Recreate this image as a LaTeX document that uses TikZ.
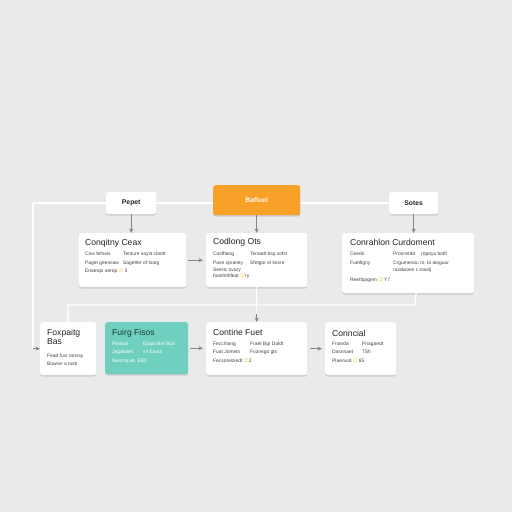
\documentclass[tikz,border=0pt]{standalone}
\usepackage{fontspec}
\setmainfont{Liberation Sans}
\newfontfamily\symf{DejaVu Sans}
\usetikzlibrary{shadows,arrows.meta}
\definecolor{bg}{HTML}{E9EAEC}
\definecolor{orng}{HTML}{F7A128}
\definecolor{teal}{HTML}{6FD0BF}
\definecolor{ink}{HTML}{222222}
\definecolor{grey}{HTML}{444444}
\definecolor{arr}{HTML}{858585}
\definecolor{ylw}{HTML}{F4C542}
\definecolor{tealink}{HTML}{163F37}
\tikzset{
  card/.style={fill=white, rounded corners=2.5pt, anchor=north west, inner sep=0pt,
    drop shadow={shadow xshift=0pt, shadow yshift=-1.3pt, opacity=0.13, fill=black}},
  tcard/.style={card, fill=teal},
  ocard/.style={card, fill=orng},
  ttl/.style={anchor=west, inner sep=0pt, font=\fontsize{8.6}{9}\selectfont, text=ink},
  lbl/.style={anchor=center, inner sep=0pt, font=\fontsize{6.8}{7}\selectfont\bfseries, text=ink},
  row/.style={anchor=west, inner sep=0pt, font=\fontsize{4.9}{5}\selectfont, text=grey},
  wline/.style={draw=white, line width=1.3pt},
  garrow/.style={draw=arr, line width=0.65pt, -{Stealth[length=4.5pt,width=4pt]}},
}
\newcommand{\ic}{{\symf\textcolor{ylw}{☺}}}
\begin{document}
\begin{tikzpicture}[x=1pt,y=-1pt]
\fill[bg] (0,0) rectangle (512,512);
\useasboundingbox (0,0) rectangle (512,512);

% connectors coordinates
\coordinate (lc) at (33,203);
\coordinate (hl) at (68,305);
\coordinate (hr) at (415,305);
\coordinate (b3b) at (415,293);
\coordinate (tr) at (389,203);

% white connectors (drawn first, behind cards)
\draw[wline] (lc) -- (tr);

% top row
\node[card, minimum width=50, minimum height=22] (pepet) at (106,192) {};
\node[lbl] (pepett) at (pepet.center) {Pepet};
\node[ocard, minimum width=87, minimum height=30] (baf) at (213,185) {};
\node[lbl, text=white!92!orng] (baft) at (baf.center) {Bafluel};
\node[card, minimum width=49, minimum height=22] (sotes) at (389,192) {};
\node[lbl] (sotest) at (sotes.center) {Sotes};

% second row
\node[card, minimum width=107, minimum height=54] (b1) at (79,233) {};
\node[ttl] (b1t) at (85,243) {Conqitny Ceax};
\node[row] (b1a) at (85,254) {Cow fefoxis};
\node[row] (b1b) at (123,254) {Tenture sayst cboltt};
\node[row] (b1c) at (85,263) {Paget geesnaw};
\node[row] (b1d) at (123,263) {Sagetter of loarg};
\node[row] (b1e) at (85,271) {Enaetqo aerop \ic\,3};

\node[card, minimum width=101, minimum height=54] (b2) at (206,233) {};
\node[ttl] (b2t) at (213,242) {Codlong Ots};
\node[row] (b2a) at (213,254) {Cosfftang};
\node[row] (b2b) at (250,254) {Tenaatt bsp sofst};
\node[row] (b2c) at (213,263) {Pase spraney};
\node[row] (b2d) at (250,263) {Sfetgor el kosre};
\node[row] (b2e) at (213,270) {Seertc ovory};
\node[row] (b2f) at (213,276) {fooelnthfeat \ic ry};

\node[card, minimum width=132, minimum height=60] (b3) at (342,233) {};
\node[ttl] (b3t) at (350,242) {Conrahlon Curdoment};
\node[row] (b3a) at (350,254) {Ceeds};
\node[row] (b3b) at (393,254) {Prosnstitd \quad ropoyu botfl};
\node[row] (b3c) at (350,263) {Fuetfigny};
\node[row] (b3d) at (393,263) {Crgumenoutro \ to aioguur};
\node[row] (b3e) at (393,270) {rasdwone ctrosolj};
\node[row] (b3f) at (350,280) {Reetfqogem \ic\,Y7};

% third row
\node[card, minimum width=56, minimum height=53] (ba) at (40,322) {};
\node[ttl] (bat) at (47,333) {Foxpaitg};
\node[ttl] (bat2) at (47,342) {Bas};
\node[row] (baa) at (47,356) {Fead fuvr tonssy};
\node[row] (bab) at (47,364) {Bowrer a tusb};

\node[tcard, minimum width=83, minimum height=52] (bb) at (105,322) {};
\node[ttl, text=tealink] (bbt) at (112,333) {Fuirg Fisos};
\node[row, text=white] (bba) at (112,344) {Fleasol};
\node[row, text=white] (bbb) at (143,344) {Epqot Baf Bud};
\node[row, text=white] (bbc) at (112,352) {Jagdsaert};
\node[row, text=white] (bbd) at (143,352) {s4 Elosa};
\node[row, text=white] (bbe) at (112,361) {faesroq wL EBD};

\node[card, minimum width=101, minimum height=53] (bc) at (206,322) {};
\node[ttl] (bct) at (213,332) {Contine Fuet};
\node[row] (bca) at (213,344) {Fecchlang};
\node[row] (bcb) at (250,344) {Fraet Bgr Doldt};
\node[row] (bcc) at (213,352) {Fuat Jomets};
\node[row] (bcd) at (250,352) {Fcoreigo gts};
\node[row] (bce) at (213,361) {Fecsoreiziedt \ic2};

\node[card, minimum width=71, minimum height=53] (bd) at (325,322) {};
\node[ttl] (bdt) at (332,333) {Conncial};
\node[row] (bda) at (332,344) {Fnanda};
\node[row] (bdb) at (362,344) {Pnagaedt};
\node[row] (bdc) at (332,352) {Dasnnaet};
\node[row] (bdd) at (362,352) {7Sh};
\node[row] (bde) at (332,361) {Plaerusd \ic\,85};

% white connectors
\draw[wline] (lc) -- (lc |- ba.west) -- ([xshift=-6pt]ba.west);
\draw[wline] (b2.south) -- ([yshift=7pt]bc.north);
\draw[wline] (b3b) -- (hr) -- (hl) -- (ba.north);

% grey arrows
\draw[garrow] ([xshift=-7pt]ba.west) -- (ba.west);
\draw[garrow] ([yshift=8pt]bc.north) -- (bc.north);
\draw[garrow] (pepet.south) -- (pepet.south |- b1.north);
\draw[garrow] (baf.south) -- (b2.north);
\draw[garrow] (sotes.south) -- (sotes.south |- b3.north);
\draw[garrow] ([xshift=2pt]b1.east) -- ([xshift=-3pt]b2.west |- b1.east);
\draw[garrow] ([xshift=2pt]bb.east) -- ([xshift=-3pt]bc.west |- bb.east);
\draw[garrow] ([xshift=3pt]bc.east) -- ([xshift=-3pt]bd.west |- bc.east);
\end{tikzpicture}
\end{document}
